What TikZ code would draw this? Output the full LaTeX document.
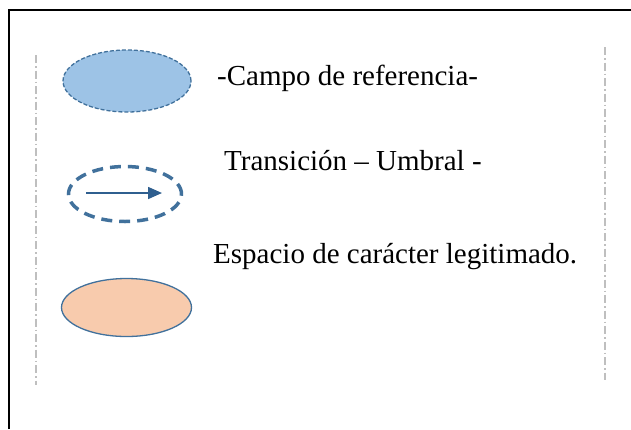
\documentclass[tikz,border=0pt]{standalone}
\usepackage{fontspec}
\setmainfont{Liberation Serif}
\usepackage{xcolor}
\usetikzlibrary{shapes.geometric,arrows.meta}

\definecolor{campoblue}{HTML}{9DC3E6}
\definecolor{edgeblue}{HTML}{41719C}
\definecolor{arrowblue}{HTML}{2F5F8F}
\definecolor{legitorange}{HTML}{F8CBAD}
\definecolor{guidegray}{HTML}{BFBFBF}

\tikzset{
  legend text/.style={anchor=base west, inner sep=0pt, font=\fontsize{29}{33}\selectfont},
  guide line/.style={guidegray, line width=1.5pt, dash pattern=on 8pt off 3pt on 1.5pt off 3pt}
}

\begin{document}
\begin{tikzpicture}[x=1pt, y=-1pt]
        \useasboundingbox (0,0) rectangle (631,429);

        % Frame
        \draw[line width=2pt] (9,429) -- (9,10) -- (631,10);

        % Guides
        \draw[guide line] (36,55) -- (36,385);
        \draw[guide line] (605,47) -- (605,380);

        % Symbols
        \node[draw=edgeblue, ellipse, fill=campoblue, line width=1.3pt, dash pattern=on 4pt off 2pt,
              minimum width=128pt, minimum height=62pt, inner sep=0pt] (campo) at (127,81) {};

        \node[draw=edgeblue, ellipse, line width=3.5pt, dash pattern=on 11pt off 7pt,
              minimum width=113pt, minimum height=55pt, inner sep=0pt] (umbral) at (125,194) {};
        \coordinate (u1) at (86,193);
        \coordinate (u2) at (162,193);
        \draw[arrowblue, line width=1.6pt, -{Triangle[length=14pt,width=12pt]}] (u1) -- (u2);

        \node[draw=edgeblue, ellipse, fill=legitorange, line width=1.3pt,
              minimum width=130pt, minimum height=58pt, inner sep=0pt] (legit) at (126.5,307.5) {};

        % Labels
        \node[legend text] (tcampo) at (217,85) {-Campo de referencia-};
        \node[legend text] (tumbral) at (224,170) {Transición – Umbral -};
        \node[legend text] (tlegit) at (213,263) {Espacio de carácter legitimado.};
    \end{tikzpicture}
\end{document}
